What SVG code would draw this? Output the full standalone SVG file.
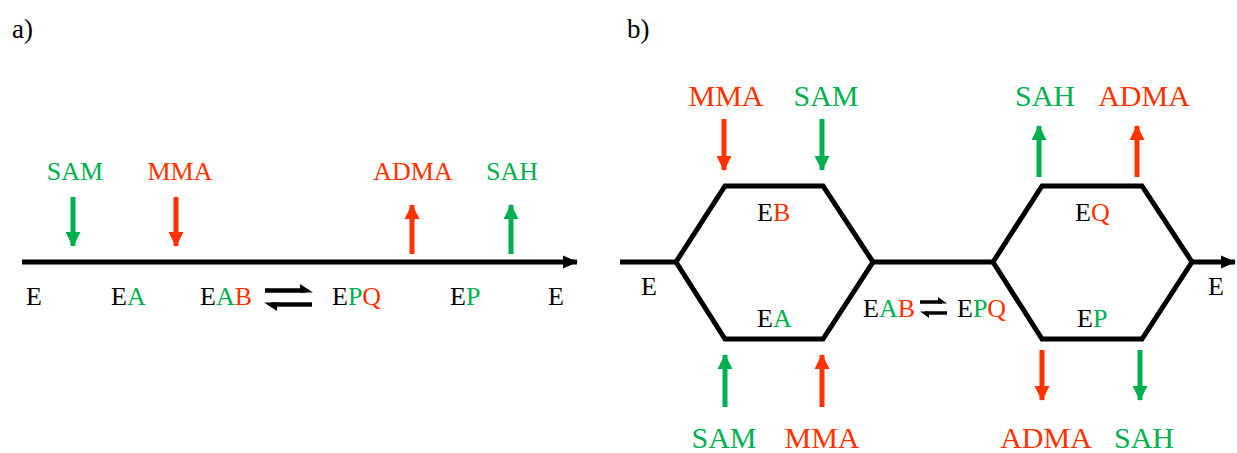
<svg xmlns="http://www.w3.org/2000/svg" width="1237" height="453" viewBox="0 0 1237 453">
<style>
text{font-family:"Liberation Serif","Times New Roman",serif;}
.s{font-size:26px;}
.l{font-size:30px;}
.g{fill:#00b050;}
.r{fill:#ff3300;}
.k{fill:#000;}
.ln{stroke:#000;stroke-width:5;fill:none;stroke-linejoin:miter;}
.ag{stroke:#00b050;stroke-width:5;fill:none;}
.ar{stroke:#ff3300;stroke-width:5;fill:none;}
</style>
<defs>
<marker id="hg" markerUnits="userSpaceOnUse" markerWidth="17" markerHeight="16" refX="14" refY="8" orient="auto"><path d="M0,0.5 L15,8 L0,15.5 Z" fill="#00b050"/></marker>
<marker id="hr" markerUnits="userSpaceOnUse" markerWidth="17" markerHeight="16" refX="14" refY="8" orient="auto"><path d="M0,0.5 L15,8 L0,15.5 Z" fill="#ff3300"/></marker>
<marker id="hk" markerUnits="userSpaceOnUse" markerWidth="17" markerHeight="16" refX="14" refY="8" orient="auto"><path d="M0,1.5 L15,8 L0,14.5 Z" fill="#000"/></marker>
</defs>
<rect width="1237" height="453" fill="#fff"/>
<text x="12" y="38" class="s" style="font-size:27px">a)</text>
<text x="627" y="38" class="s" style="font-size:27px">b)</text>

<!-- Panel a -->
<g id="connectors-a">
<path class="ln" d="M22,262 H577" marker-end="url(#hk)"/>
<path class="ag" d="M73,197 V246" marker-end="url(#hg)"/>
<path class="ar" d="M176,197 V246" marker-end="url(#hr)"/>
<path class="ar" d="M412,254 V205" marker-end="url(#hr)"/>
<path class="ag" d="M511,254 V205" marker-end="url(#hg)"/>
<g id="eq-a">
<path d="M265,290.5 H306" stroke="#000" stroke-width="4.5"/>
<polygon points="313,292.5 300,284 300,292.5" fill="#000"/>
<path d="M271,304.5 H312" stroke="#000" stroke-width="4.5"/>
<polygon points="264,302.5 277,311 277,302.5" fill="#000"/>
</g>
</g>
<g id="a-sam-in"><text x="75" y="180" class="s g" text-anchor="middle">SAM</text></g>
<g id="a-mma-in"><text x="180" y="180" class="s r" text-anchor="middle">MMA</text></g>
<g id="a-adma-out"><text x="413" y="180" class="s r" text-anchor="middle">ADMA</text></g>
<g id="a-sah-out"><text x="512" y="180" class="s g" text-anchor="middle">SAH</text></g>
<g id="a-E1"><text x="26" y="305" class="s k">E</text></g>
<g id="a-EA"><text x="111" y="305" class="s k">E<tspan class="g">A</tspan></text></g>
<g id="a-EAB"><text x="200" y="305" class="s k">E<tspan class="g">A</tspan><tspan class="r">B</tspan></text></g>
<g id="a-EPQ"><text x="332" y="305" class="s k">E<tspan class="g">P</tspan><tspan class="r">Q</tspan></text></g>
<g id="a-EP"><text x="450" y="305" class="s k">E<tspan class="g">P</tspan></text></g>
<g id="a-E2"><text x="548" y="305" class="s k">E</text></g>

<!-- Panel b -->
<g id="connectors-b">
<path class="ln" d="M620,262 H676"/>
<path class="ln" d="M676,262 L725,186 H823 L873,262 L823,339 H725 Z"/>
<path class="ln" d="M873,262 H993"/>
<path class="ln" d="M993,262 L1042,186 H1142 L1192,262 L1142,339 H1042 Z"/>
<path class="ln" d="M1192,262 H1235" marker-end="url(#hk)"/>
<path class="ar" d="M724,119 V170" marker-end="url(#hr)"/>
<path class="ag" d="M822,119 V170" marker-end="url(#hg)"/>
<path class="ag" d="M725,407 V355" marker-end="url(#hg)"/>
<path class="ar" d="M822,407 V355" marker-end="url(#hr)"/>
<path class="ag" d="M1039,177 V126" marker-end="url(#hg)"/>
<path class="ar" d="M1137,177 V126" marker-end="url(#hr)"/>
<path class="ar" d="M1042,350 V400" marker-end="url(#hr)"/>
<path class="ag" d="M1140,350 V400" marker-end="url(#hg)"/>
<g id="eq-b">
<path d="M920,302 H942" stroke="#000" stroke-width="3.5"/>
<polygon points="947,303.5 938,297 938,303.5" fill="#000"/>
<path d="M925,313 H947" stroke="#000" stroke-width="3.5"/>
<polygon points="920,311.5 929,318 929,311.5" fill="#000"/>
</g>
</g>
<g id="b-mma-top"><text x="726" y="106" class="l r" text-anchor="middle">MMA</text></g>
<g id="b-sam-top"><text x="826" y="106" class="l g" text-anchor="middle">SAM</text></g>
<g id="b-sah-top"><text x="1045" y="106" class="l g" text-anchor="middle">SAH</text></g>
<g id="b-adma-top"><text x="1144" y="106" class="l r" text-anchor="middle">ADMA</text></g>
<g id="b-sam-bot"><text x="724" y="448" class="l g" text-anchor="middle">SAM</text></g>
<g id="b-mma-bot"><text x="822" y="448" class="l r" text-anchor="middle">MMA</text></g>
<g id="b-adma-bot"><text x="1046" y="448" class="l r" text-anchor="middle">ADMA</text></g>
<g id="b-sah-bot"><text x="1144" y="448" class="l g" text-anchor="middle">SAH</text></g>
<g id="b-E1"><text x="641" y="295" class="s k">E</text></g>
<g id="b-EB"><text x="757" y="221" class="s k">E<tspan class="r">B</tspan></text></g>
<g id="b-EA"><text x="757" y="327" class="s k">E<tspan class="g">A</tspan></text></g>
<g id="b-EAB"><text x="863" y="317" class="s k">E<tspan class="g">A</tspan><tspan class="r">B</tspan></text></g>
<g id="b-EPQ"><text x="957" y="317" class="s k">E<tspan class="g">P</tspan><tspan class="r">Q</tspan></text></g>
<g id="b-EQ"><text x="1075" y="221" class="s k">E<tspan class="r">Q</tspan></text></g>
<g id="b-EP"><text x="1077" y="327" class="s k">E<tspan class="g">P</tspan></text></g>
<g id="b-E2"><text x="1208" y="295" class="s k">E</text></g>
</svg>
